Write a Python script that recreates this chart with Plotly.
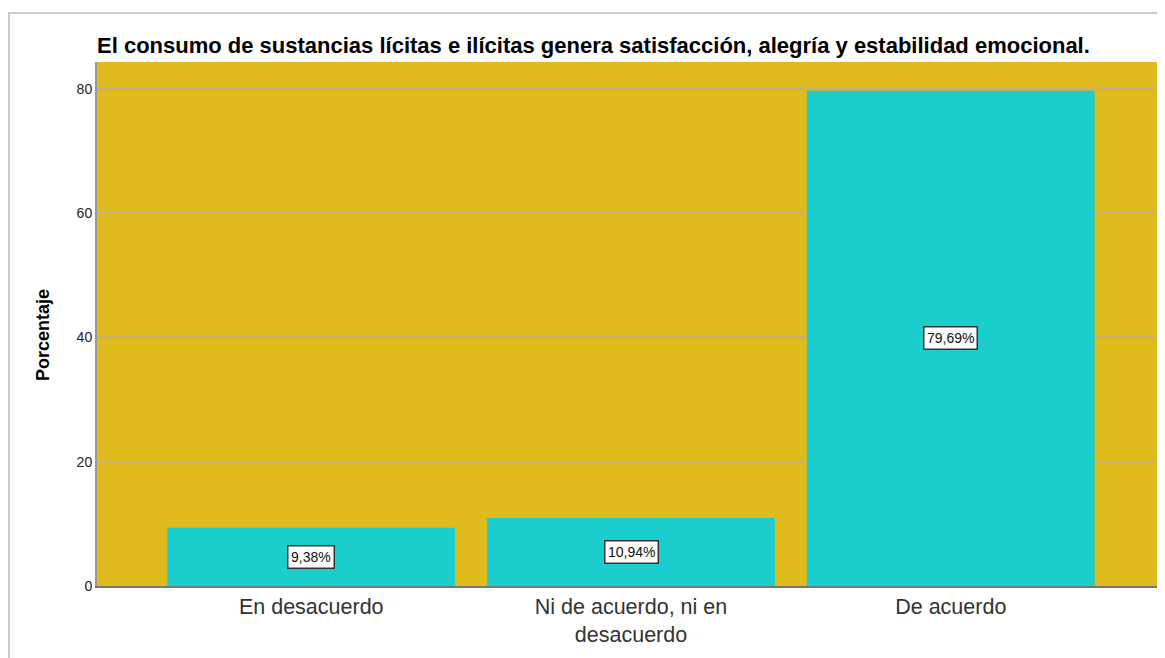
import plotly.graph_objects as go

categories = ["En desacuerdo", "Ni de acuerdo, ni en<br>desacuerdo", "De acuerdo"]
values = [9.38, 10.94, 79.69]
labels = ["9,38%", "10,94%", "79,69%"]
title = "El consumo de sustancias lícitas e ilícitas genera satisfacción, alegría y estabilidad emocional."
y_title = "Porcentaje"
y_ticks = [0, 20, 40, 60, 80]

# page has 8px body margin; figure is sized to fill the rest of the window
OFF = 8
W, H = 1165 - OFF, 658 - OFF
L, R, T, B = 97 - OFF, 0, 62 - OFF, 72
pw, ph = W - L - R, H - T - B
FONT = "Liberation Sans, Arial"

def px2paper_x(px):
    return (px - OFF - L) / pw

def py2paper_y(py):
    return (H - B - (py - OFF)) / ph

fig = go.Figure()
fig.add_trace(go.Bar(
    x=list(range(len(categories))), y=values,
    marker=dict(color="#1CCDCD", line=dict(width=0)),
    width=0.9, hoverinfo="skip",
))

for i, (v, lab) in enumerate(zip(values, labels)):
    fig.add_annotation(
        x=i, y=v / 2, text=lab, showarrow=False,
        font=dict(family=FONT, size=14, color="#111"),
        bgcolor="white", bordercolor="#333", borderwidth=1.5, borderpad=2.5,
    )

fig.add_annotation(
    xref="paper", yref="paper", x=px2paper_x(43), y=py2paper_y(335),
    text="<b>" + y_title + "</b>", showarrow=False, textangle=-90,
    xanchor="center", yanchor="middle",
    font=dict(family=FONT, size=18, color="#000"),
)

fig.add_shape(type="line", xref="paper", yref="paper",
              x0=px2paper_x(8), x1=px2paper_x(1175), y0=py2paper_y(13), y1=py2paper_y(13),
              line=dict(color="#cccccc", width=2), layer="above")
fig.add_shape(type="line", xref="paper", yref="paper",
              x0=px2paper_x(9), x1=px2paper_x(9), y0=py2paper_y(13), y1=py2paper_y(680),
              line=dict(color="#cccccc", width=2), layer="above")

fig.update_layout(
    width=W, height=H,
    margin=dict(l=L, r=R, t=T, b=B, pad=0),
    paper_bgcolor="white", plot_bgcolor="#E0BB1E",
    showlegend=False,
    title=dict(text="<b>" + title + "</b>", x=0, xref="paper",
               xanchor="left", y=1 - (45 - OFF) / H, yanchor="middle",
               font=dict(family=FONT, size=22, color="#000")),
    font=dict(family=FONT),
)
fig.update_xaxes(
    tickmode="array", tickvals=list(range(len(categories))), ticktext=categories,
    range=[-0.67, 2.67], showgrid=False, zeroline=False,
    showline=True, linecolor="#777777", linewidth=2,
    tickfont=dict(family=FONT, size=21.5, color="#333"),
    ticks="",
)
fig.update_yaxes(
    range=[0, 84.3], tickvals=y_ticks, showgrid=True, gridcolor="#C4B27A", gridwidth=1.5,
    zeroline=False, showline=True, linecolor="#999999", linewidth=2,
    tickfont=dict(family=FONT, size=14, color="#222"),
    ticks="", ticklen=0,
)

fig.write_html("out.html")
